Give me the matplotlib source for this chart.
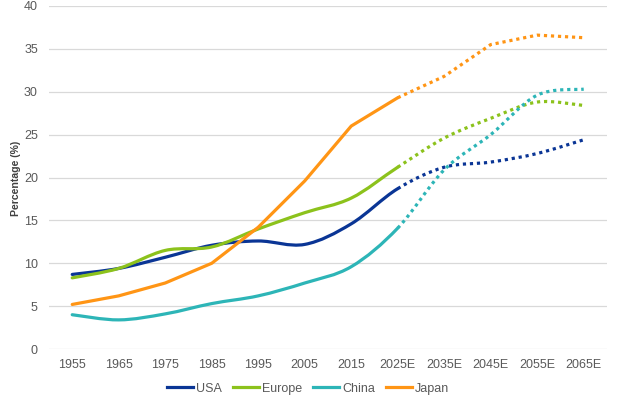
import matplotlib
matplotlib.use("Agg")
import matplotlib.pyplot as plt
from matplotlib.path import Path
from matplotlib.patches import PathPatch
from matplotlib.lines import Line2D
import numpy as np

plt.rcParams['font.family'] = ['Liberation Sans', 'DejaVu Sans']

years = ["1955", "1965", "1975", "1985", "1995", "2005", "2015", "2025E",
         "2035E", "2045E", "2055E", "2065E"]
usa    = [8.7, 9.4, 10.7, 12.1, 12.6, 12.2, 14.6, 18.7, 21.2, 21.8, 22.8, 24.4]
europe = [8.3, 9.4, 11.5, 11.9, 14.0, 15.9, 17.6, 21.2, 24.6, 26.9, 28.8, 28.4]
china  = [4.0, 3.4, 4.1, 5.3, 6.2, 7.7, 9.6, 14.1, 20.9, 25.0, 29.6, 30.3]
japan  = [5.2, 6.2, 7.7, 10.0, 14.2, 19.6, 26.0, 29.3, 31.8, 35.5, 36.6, 36.3]

series = [("USA", usa, "#0A3595", True),
          ("Europe", europe, "#8CC21C", True),
          ("China", china, "#2DB5B7", True),
          ("Japan", japan, "#FF9515", False)]

split = 7  # index of 2025E (last actual / first estimate)

fig = plt.figure(figsize=(6.2, 3.98), dpi=100)
ax = fig.add_axes([0.079, 0.123, 0.9, 0.862])

lw = 2.3


def bezier_path(x, y, i0, i1, smooth):
    x = np.asarray(x, float)
    y = np.asarray(y, float)
    n = len(x)
    verts = [(x[i0], y[i0])]
    codes = [Path.MOVETO]
    for i in range(i0, i1):
        if smooth:
            ip = max(i - 1, 0)
            inx = min(i + 2, n - 1)
            c1 = (x[i] + (x[i + 1] - x[ip]) / 6.0, y[i] + (y[i + 1] - y[ip]) / 6.0)
            c2 = (x[i + 1] - (x[inx] - x[i]) / 6.0, y[i + 1] - (y[inx] - y[i]) / 6.0)
            verts += [c1, c2, (x[i + 1], y[i + 1])]
            codes += [Path.CURVE4] * 3
        else:
            verts.append((x[i + 1], y[i + 1]))
            codes.append(Path.LINETO)
    return Path(verts, codes)


xs = np.arange(len(years))
handles = []
for name, vals, col, smooth in series:
    p1 = bezier_path(xs, vals, 0, split, smooth)
    ax.add_patch(PathPatch(p1, facecolor="none", edgecolor=col, lw=lw,
                           capstyle="round", joinstyle="round", zorder=3))
    p2 = bezier_path(xs, vals, split, len(xs) - 1, smooth)
    ax.add_patch(PathPatch(p2, facecolor="none", edgecolor=col, lw=lw,
                           linestyle=(0, (1, 1.2)), capstyle="butt", zorder=3))
    handles.append(Line2D([0], [0], color=col, lw=lw, label=name))

ax.set_xlim(-0.5, len(years) - 0.5)
ax.set_ylim(0, 40)
ax.set_xticks(xs)
ax.set_xticklabels(years)
ax.set_yticks(range(0, 41, 5))
ax.tick_params(axis="both", length=0, labelsize=9, colors="#595959", pad=7)
ax.tick_params(axis="y", pad=8)
ax.grid(axis="y", color="#D9D9D9", lw=0.9)
ax.set_axisbelow(True)
for s in ax.spines.values():
    s.set_visible(False)

fig.text(16 / 620, 1 - 178 / 398, "Percentage (%)", rotation=90, fontsize=7.6,
         fontweight="bold", color="#404040", ha="center", va="center")

fig.legend(handles=handles, loc="center", bbox_to_anchor=(0.497, 0.023), ncol=4,
           frameon=False, fontsize=9, handlelength=2.1, columnspacing=0.9,
           handletextpad=0.2, labelcolor="#595959")

fig.savefig("out.png", dpi=100)
